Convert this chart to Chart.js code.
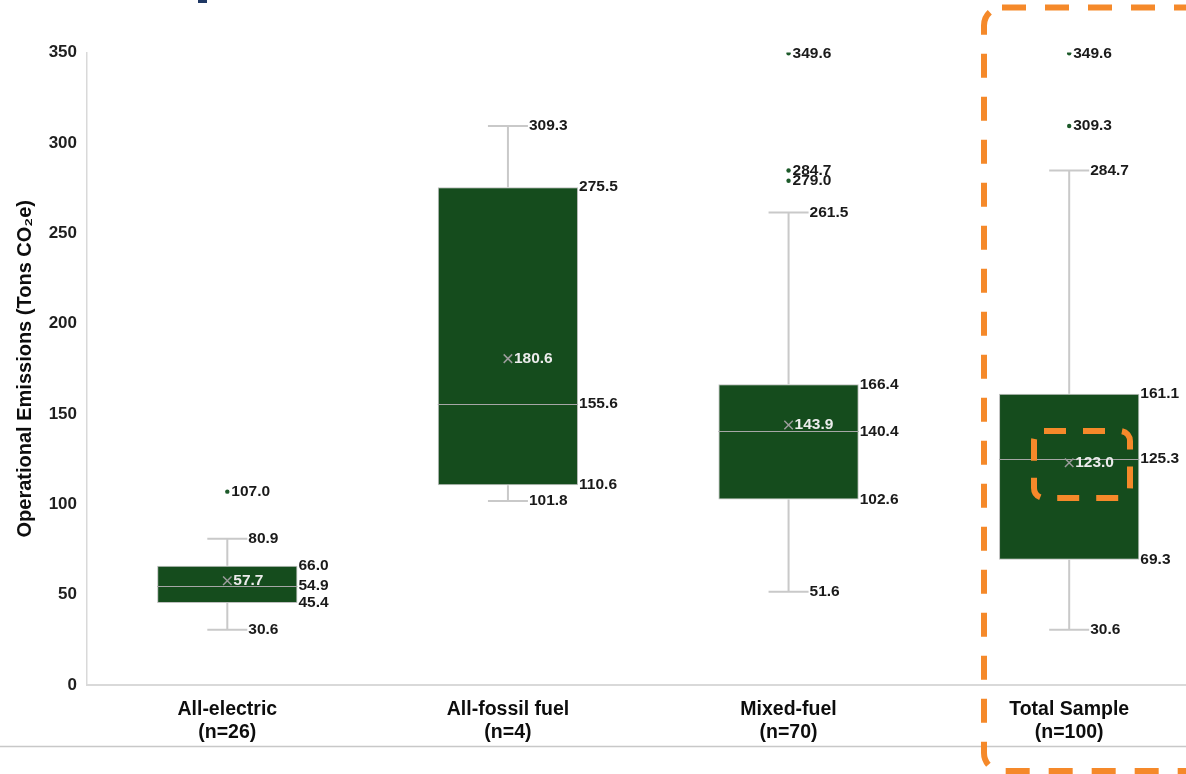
<!DOCTYPE html>
<html>
<head>
<meta charset="utf-8">
<script src="https://cdn.jsdelivr.net/npm/chart.js@4/dist/chart.umd.min.js"></script>
<style>
  html, body { margin: 0; padding: 0; background: #fff; overflow: hidden; }
  #wrap { position: relative; width: 1186px; height: 774px; overflow: hidden; }
  #myChart { position: absolute; left: 0; top: 0; }
  #mark { position: absolute; left: 198px; top: 0; width: 9px; height: 3px; background: #1f3864; }
</style>
</head>
<body>
<div id="wrap">
  <canvas id="myChart" width="1217" height="774"></canvas>
  <div id="mark"></div>
</div>
<script>
// box plot figures
const categories = [['All-electric', '(n=26)'], ['All-fossil fuel', '(n=4)'], ['Mixed-fuel', '(n=70)'], ['Total Sample', '(n=100)']];
const mins = [30.6, 101.8, 51.6, 30.6];
const q1s = [45.4, 110.6, 102.6, 69.3];
const medians = [54.9, 155.6, 140.4, 125.3];
const q3s = [66.0, 275.5, 166.4, 161.1];
const maxs = [80.9, 309.3, 261.5, 284.7];
const means = [57.7, 180.6, 143.9, 123.0];
const outliers = [[107.0], [], [279.0, 284.7, 349.6], [309.3, 349.6]];
const yTicks = [0, 50, 100, 150, 200, 250, 300, 350];

const FONT = '"Liberation Sans", Arial, sans-serif';
const fmt = v => v.toFixed(1);

// one point dataset per outlier rank, so each category can hold several dots
const maxOut = Math.max(...outliers.map(l => l.length));
const outlierSets = [];
for (let k = 0; k < maxOut; k++) {
  outlierSets.push({
    type: 'line',
    label: 'Outlier ' + (k + 1),
    data: outliers.map(l => (l[k] === undefined ? null : l[k])),
    showLine: false,
    pointStyle: 'circle',
    pointRadius: 2.2,
    backgroundColor: '#1d5a2a',
    borderColor: '#1d5a2a',
    borderWidth: 0,
    order: 1
  });
}

const boxPlot = {
  id: 'boxPlot',
  beforeDatasetsDraw(chart) {
    const {ctx, scales: {x, y}} = chart;
    ctx.save();
    ctx.strokeStyle = '#c9c9c9';
    ctx.lineWidth = 2;
    categories.forEach((c, i) => {
      const cx = x.getPixelForValue(i);
      ctx.beginPath();
      ctx.moveTo(cx, y.getPixelForValue(q3s[i]));
      ctx.lineTo(cx, y.getPixelForValue(maxs[i]));
      ctx.moveTo(cx, y.getPixelForValue(q1s[i]));
      ctx.lineTo(cx, y.getPixelForValue(mins[i]));
      ctx.moveTo(cx - 20, y.getPixelForValue(maxs[i]));
      ctx.lineTo(cx + 20, y.getPixelForValue(maxs[i]));
      ctx.moveTo(cx - 20, y.getPixelForValue(mins[i]));
      ctx.lineTo(cx + 20, y.getPixelForValue(mins[i]));
      ctx.stroke();
    });
    ctx.restore();
  },
  afterDatasetDraw(chart, args) {
    if (args.index !== 0) return;
    const {ctx, scales: {y}} = chart;
    ctx.save();
    ctx.strokeStyle = '#a6a6a6';
    ctx.lineWidth = 1;
    args.meta.data.forEach((bar, i) => {
      const my = Math.round(y.getPixelForValue(medians[i])) + 0.5;
      ctx.beginPath();
      ctx.moveTo(bar.x - bar.width / 2, my);
      ctx.lineTo(bar.x + bar.width / 2, my);
      ctx.stroke();
    });
    ctx.restore();
  },
  afterDatasetsDraw(chart) {
    const {ctx, scales: {x, y}} = chart;
    const bars = chart.getDatasetMeta(0).data;
    ctx.save();
    ctx.textAlign = 'left';
    ctx.textBaseline = 'middle';
    ctx.font = 'bold 15.5px ' + FONT;
    ctx.fillStyle = '#1a1a1a';
    categories.forEach((c, i) => {
      const cx = x.getPixelForValue(i);
      const right = bars[i].x + bars[i].width / 2 + 1;
      ctx.fillText(fmt(maxs[i]), cx + 21, y.getPixelForValue(maxs[i]));
      ctx.fillText(fmt(mins[i]), cx + 21, y.getPixelForValue(mins[i]));
      ctx.fillText(fmt(q3s[i]), right, y.getPixelForValue(q3s[i]));
      ctx.fillText(fmt(medians[i]), right, y.getPixelForValue(medians[i]));
      ctx.fillText(fmt(q1s[i]), right, y.getPixelForValue(q1s[i]));
      outliers[i].forEach(v => ctx.fillText(fmt(v), cx + 4, y.getPixelForValue(v)));
    });
    ctx.fillStyle = '#ececec';
    ctx.font = 'bold 15.5px ' + FONT;
    categories.forEach((c, i) => {
      ctx.fillText(fmt(means[i]), x.getPixelForValue(i) + 6, y.getPixelForValue(means[i]));
    });
    ctx.restore();
  },
  afterDraw(chart) {
    const ctx = chart.ctx;
    ctx.save();
    // slide rule under the chart
    ctx.strokeStyle = '#c8c8c8';
    ctx.lineWidth = 1.5;
    ctx.beginPath();
    ctx.moveTo(0, 746.5);
    ctx.lineTo(1217, 746.5);
    ctx.stroke();
    // orange highlight frames
    ctx.strokeStyle = '#f5892a';
    ctx.lineWidth = 6;
    ctx.setLineDash([24, 19]);
    ctx.beginPath();
    ctx.roundRect(984, 7.5, 260, 763.5, 18);
    ctx.stroke();
    ctx.setLineDash([22, 17]);
    ctx.beginPath();
    ctx.roundRect(1034, 431, 96, 67, 10);
    ctx.stroke();
    ctx.restore();
  }
};

new Chart(document.getElementById('myChart'), {
  type: 'bar',
  data: {
    labels: categories,
    datasets: [{
      label: 'IQR',
      data: q1s.map((q, i) => [q, q3s[i]]),
      backgroundColor: '#154c1d',
      borderColor: '#bfbfbf',
      borderWidth: 1,
      borderSkipped: false,
      barPercentage: 0.5,
      categoryPercentage: 1,
      order: 3
    }, {
      type: 'line',
      label: 'Mean',
      data: means,
      showLine: false,
      pointStyle: 'crossRot',
      pointRadius: 6,
      borderColor: '#9c9c9c',
      borderWidth: 1.5,
      order: 1
    }].concat(outlierSets)
  },
  options: {
    responsive: false,
    animation: false,
    devicePixelRatio: 1,
    layout: { padding: { top: 52.5, left: 0, right: 0, bottom: 0 } },
    plugins: { legend: { display: false }, tooltip: { enabled: false } },
    scales: {
      x: {
        grid: { color: 'rgba(0,0,0,0)', drawTicks: false },
        border: { display: true, color: '#d9d9d9', width: 2 },
        ticks: {
          color: '#0d0d0d',
          padding: 13,
          maxRotation: 0,
          font: { family: FONT, size: 19.5, weight: 'bold', lineHeight: 1.17 }
        },
        afterFit: s => { s.height = 89; }
      },
      y: {
        min: 0,
        max: 350,
        afterBuildTicks: s => { s.ticks = yTicks.map(v => ({value: v})); },
        grid: { color: 'rgba(0,0,0,0)', drawTicks: false },
        border: { display: true, color: '#d9d9d9', width: 1.5 },
        ticks: {
          color: '#1f1f1f',
          padding: 10,
          font: { family: FONT, size: 17, weight: 'bold' }
        },
        title: {
          display: true,
          text: 'Operational Emissions (Tons CO\u2082e)',
          color: '#0d0d0d',
          padding: { top: 13, bottom: 0 },
          font: { family: FONT, size: 20, weight: 'bold' }
        },
        afterFit: s => { s.width = 87; }
      }
    }
  },
  plugins: [boxPlot]
});
</script>
</body>
</html>
